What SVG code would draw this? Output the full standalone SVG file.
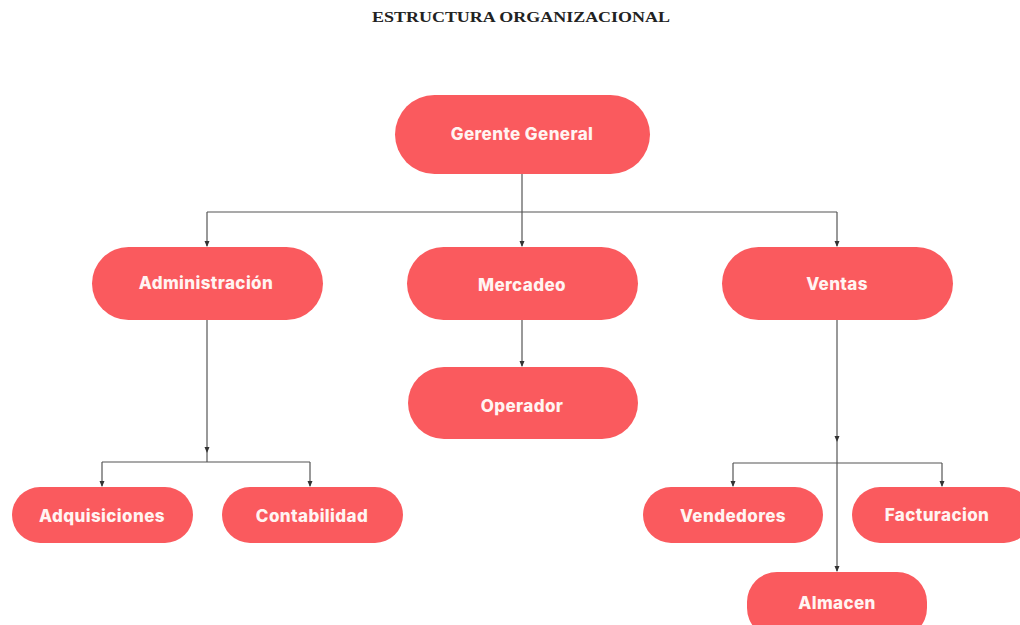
<svg xmlns="http://www.w3.org/2000/svg" width="1020" height="625" viewBox="0 0 1020 625">
<style>
.node rect{fill:#FA5A5E;}
.node text{fill:#FFF4F2;font-family:Inter,"Liberation Sans",sans-serif;font-weight:800;font-size:17px;letter-spacing:0.4px;text-anchor:middle;dominant-baseline:central;}
.title{font-family:"Liberation Serif",serif;font-weight:700;font-size:14px;fill:#222;text-anchor:middle;}
.conn path{fill:none;stroke:#555;stroke-width:1.2;}
</style>
<defs>
<marker id="arr" viewBox="0 0 6 6" refX="5" refY="3" markerWidth="5" markerHeight="5" orient="auto">
<path d="M0,0.5 L6,3 L0,5.5 Z" fill="#333"/>
</marker>
</defs>
<rect width="1020" height="625" fill="#fff"/>
<text class="title" x="521" y="22" textLength="298" lengthAdjust="spacingAndGlyphs">ESTRUCTURA ORGANIZACIONAL</text>
<g class="conn" id="connectors">
<path d="M522,173 V212"/>
<path d="M207,212 H837"/>
<path d="M207,212 V246" marker-end="url(#arr)"/>
<path d="M522,212 V246" marker-end="url(#arr)"/>
<path d="M837,212 V246" marker-end="url(#arr)"/>
<path d="M522,320 V366" marker-end="url(#arr)"/>
<path d="M207,320 V452" marker-end="url(#arr)"/>
<path d="M207,452 V462"/>
<path d="M102,462 H310"/>
<path d="M102,462 V486" marker-end="url(#arr)"/>
<path d="M310,462 V486" marker-end="url(#arr)"/>
<path d="M837,320 V441" marker-end="url(#arr)"/>
<path d="M837,441 V571" marker-end="url(#arr)"/>
<path d="M733,463 H942"/>
<path d="M733,463 V486" marker-end="url(#arr)"/>
<path d="M942,463 V486" marker-end="url(#arr)"/>
</g>
<g class="node" id="gerente"><rect x="395" y="95" width="255" height="79" rx="39.5"/><text x="522" y="134">Gerente General</text></g>
<g class="node" id="administracion"><rect x="92" y="247" width="231" height="73" rx="36.5"/><text x="206" y="283">Administración</text></g>
<g class="node" id="mercadeo"><rect x="407" y="247" width="231" height="73" rx="36.5"/><text x="522" y="285">Mercadeo</text></g>
<g class="node" id="ventas"><rect x="722" y="247" width="231" height="73" rx="36.5"/><text x="837" y="284">Ventas</text></g>
<g class="node" id="operador"><rect x="408" y="367" width="230" height="72" rx="36"/><text x="522" y="406">Operador</text></g>
<g class="node" id="adquisiciones"><rect x="12" y="487" width="181" height="56" rx="28"/><text x="102" y="516">Adquisiciones</text></g>
<g class="node" id="contabilidad"><rect x="222" y="487" width="181" height="56" rx="28"/><text x="312" y="516">Contabilidad</text></g>
<g class="node" id="vendedores"><rect x="643" y="487" width="180" height="56" rx="28"/><text x="733" y="516">Vendedores</text></g>
<g class="node" id="facturacion"><rect x="852" y="487" width="180" height="56" rx="28"/><text x="937" y="515">Facturacion</text></g>
<g class="node" id="almacen"><rect x="747" y="572" width="180" height="66" rx="30"/><text x="837" y="603">Almacen</text></g>
</svg>
